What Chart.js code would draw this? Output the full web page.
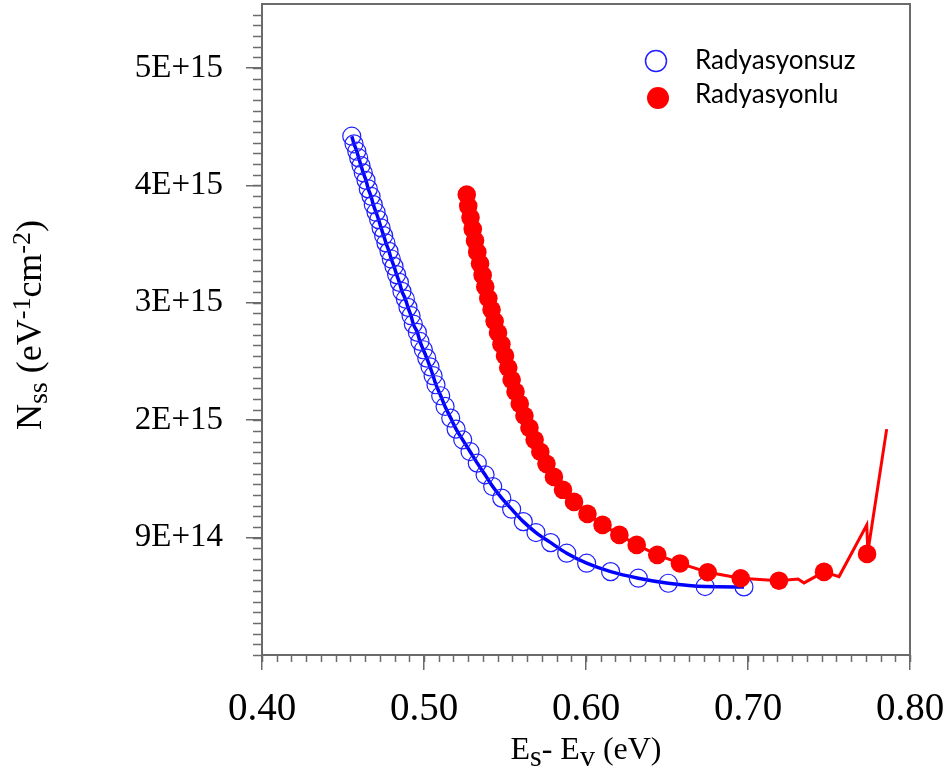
<!DOCTYPE html>
<html>
<head>
<meta charset="utf-8">
<title>Nss</title>
<script src="https://cdn.jsdelivr.net/npm/chart.js@4.4.0/dist/chart.umd.min.js"></script>
<style>
  html, body { margin: 0; padding: 0; background: #fff; }
</style>
</head>
<body>
<canvas id="myChart" width="949" height="775"></canvas>
<script>
"use strict";

// x: Es - Ev (eV), y: Nss in units of 1E15 eV-1cm-2
const blueX = [0.4554, 0.4568, 0.4585, 0.4597, 0.4611, 0.4625, 0.4642, 0.4656, 0.4673, 0.4687,
    0.4704, 0.4720, 0.4735, 0.4751, 0.4765, 0.4784, 0.4798, 0.4815, 0.4831, 0.4848,
    0.4864, 0.4885, 0.4901, 0.4920, 0.4934, 0.4959, 0.4975, 0.4996, 0.5017, 0.5037,
    0.5056, 0.5074, 0.5103, 0.5130, 0.5165, 0.5198, 0.5239, 0.5284, 0.5329, 0.5377,
    0.5424, 0.5480, 0.5541, 0.5613, 0.5691, 0.5782, 0.5881, 0.6004, 0.6152, 0.6323,
    0.6508, 0.6735, 0.6975];
const blueY = [4.419, 4.354, 4.291, 4.234, 4.169, 4.107, 4.043, 3.970, 3.907, 3.836,
    3.771, 3.708, 3.638, 3.572, 3.510, 3.438, 3.373, 3.310, 3.240, 3.174,
    3.097, 3.032, 2.961, 2.890, 2.819, 2.748, 2.671, 2.600, 2.529, 2.455,
    2.379, 2.302, 2.208, 2.117, 2.018, 1.924, 1.833, 1.733, 1.634, 1.535,
    1.435, 1.336, 1.242, 1.136, 1.043, 0.957, 0.867, 0.782, 0.710, 0.654,
    0.611, 0.583, 0.580];

const redX = [0.5264, 0.5273, 0.5287, 0.5301, 0.5315, 0.5329, 0.5346, 0.5362, 0.5378, 0.5397,
    0.5417, 0.5436, 0.5457, 0.5478, 0.5500, 0.5520, 0.5541, 0.5565, 0.5591, 0.5620,
    0.5651, 0.5683, 0.5718, 0.5756, 0.5802, 0.5858, 0.5926, 0.6009, 0.6102, 0.6206,
    0.6313, 0.6440, 0.6580, 0.6751, 0.6955, 0.7191, 0.7469, 0.7735];
const redY = [3.922, 3.824, 3.726, 3.627, 3.529, 3.431, 3.333, 3.235, 3.137, 3.039,
    2.941, 2.843, 2.745, 2.647, 2.549, 2.447, 2.344, 2.242, 2.140, 2.038,
    1.935, 1.833, 1.731, 1.628, 1.517, 1.407, 1.304, 1.202, 1.108, 1.023,
    0.938, 0.853, 0.780, 0.705, 0.654, 0.633, 0.708, 0.861];

// the red line runs through the markers and has a few extra corners at the end
const redLineX = [0.5264, 0.5273, 0.5287, 0.5301, 0.5315, 0.5329, 0.5346, 0.5362, 0.5378, 0.5397,
    0.5417, 0.5436, 0.5457, 0.5478, 0.5500, 0.5520, 0.5541, 0.5565, 0.5591, 0.5620,
    0.5651, 0.5683, 0.5718, 0.5756, 0.5802, 0.5858, 0.5926, 0.6009, 0.6102, 0.6206,
    0.6313, 0.6440, 0.6580, 0.6751, 0.6955, 0.7191, 0.7309, 0.7346, 0.7469, 0.7562,
    0.7733, 0.7740, 0.7856];
const redLineY = [3.922, 3.824, 3.726, 3.627, 3.529, 3.431, 3.333, 3.235, 3.137, 3.039,
    2.941, 2.843, 2.745, 2.647, 2.549, 2.447, 2.344, 2.242, 2.140, 2.038,
    1.935, 1.833, 1.731, 1.628, 1.517, 1.407, 1.304, 1.202, 1.108, 1.023,
    0.938, 0.853, 0.780, 0.705, 0.654, 0.633, 0.648, 0.614, 0.708, 0.668,
    1.108, 0.880, 1.924];

const seriesNames = ["Radyasyonsuz", "Radyasyonlu"];

const xTicks = [0.40, 0.50, 0.60, 0.70, 0.80];
const xTickLabels = ["0.40", "0.50", "0.60", "0.70", "0.80"];
const yTicks = [1, 2, 3, 4, 5];
const yTickLabels = ["9E+14", "2E+15", "3E+15", "4E+15", "5E+15"];

const serif = "'Liberation Serif', 'Times New Roman', serif";
const axisGray = "#6b6b6b";

function toPoints(xs, ys){
    const pts = [];
    for (let i = 0; i < xs.length; i++){
        pts.push({x: xs[i], y: ys[i]});
    }
    return pts;
}

// draws text pieces with their own size and vertical shift, centred on x
function drawRich(ctx, parts, x, y){
    let total = 0;
    for (const p of parts){
        ctx.font = p.size + "px " + serif;
        total += ctx.measureText(p.t).width;
    }
    let cx = x - total / 2;
    ctx.textAlign = "left";
    ctx.textBaseline = "alphabetic";
    for (const p of parts){
        ctx.font = p.size + "px " + serif;
        ctx.fillText(p.t, cx, y + (p.dy || 0));
        cx += ctx.measureText(p.t).width;
    }
}

const framePlugin = {
    id: "frame",
    afterDraw(chart){
        const ctx = chart.ctx;
        const a = chart.chartArea;
        const xs = chart.scales.x;
        const ys = chart.scales.y;
        ctx.save();

        // box
        ctx.strokeStyle = axisGray;
        ctx.lineWidth = 2;
        ctx.strokeRect(a.left, a.top, a.right - a.left, a.bottom - a.top);

        // minor ticks, 10 between majors
        ctx.lineWidth = 1.5;
        ctx.beginPath();
        const xStep = 0.1 / 11;
        for (let k = 0; ; k++){
            const v = xs.min + k * xStep;
            if (v > xs.max + 1e-9) break;
            const px = Math.round(xs.getPixelForValue(v)) + 0.5;
            ctx.moveTo(px, a.bottom);
            ctx.lineTo(px, a.bottom + 7);
        }
        const yStep = 1 / 11;
        for (let k = 0; ; k++){
            const v = ys.min + k * yStep;
            if (v > ys.max + 1e-9) break;
            const py = Math.round(ys.getPixelForValue(v)) + 0.5;
            ctx.moveTo(a.left, py);
            ctx.lineTo(a.left - 9, py);
        }
        ctx.stroke();

        // axis titles
        ctx.fillStyle = "#000";
        drawRich(ctx, [
            {t: "E", size: 32},
            {t: "s", size: 30, dy: 7},
            {t: "- E", size: 32},
            {t: "v", size: 30, dy: 7},
            {t: " (eV)", size: 32}
        ], (a.left + a.right) / 2, a.bottom + 104);

        ctx.save();
        ctx.translate(41, 325);
        ctx.rotate(-Math.PI / 2);
        drawRich(ctx, [
            {t: "N", size: 36},
            {t: "ss", size: 28, dy: 6},
            {t: " (eV", size: 36},
            {t: "-1", size: 26, dy: -11},
            {t: "cm", size: 36},
            {t: "-2", size: 26, dy: -11},
            {t: ")", size: 36}
        ], 0, 0);
        ctx.restore();

        // legend inside the plot
        const blue = chart.data.datasets[2];
        const red = chart.data.datasets[0];
        ctx.font = "26px Lato, 'Open Sans', sans-serif";
        ctx.textAlign = "left";
        ctx.textBaseline = "alphabetic";

        ctx.beginPath();
        ctx.arc(656, 61, 10.5, 0, Math.PI * 2);
        ctx.lineWidth = 1.5;
        ctx.strokeStyle = blue.pointBorderColor;
        ctx.stroke();
        ctx.fillStyle = "#000";
        ctx.fillText(blue.label, 695, 69);

        ctx.beginPath();
        ctx.arc(658, 98, 11, 0, Math.PI * 2);
        ctx.fillStyle = red.pointBackgroundColor;
        ctx.fill();
        ctx.fillStyle = "#000";
        ctx.fillText(red.label, 695, 103);

        ctx.restore();
    }
};

function init(){
    const ctx = document.getElementById("myChart").getContext("2d");
    new Chart(ctx, {
        type: "scatter",
        data: {
            datasets: [
                {
                    label: seriesNames[1],
                    data: toPoints(redX, redY),
                    showLine: false,
                    pointRadius: 9.3,
                    pointBorderWidth: 0,
                    pointBackgroundColor: "#ff0000",
                    pointBorderColor: "#ff0000",
                    order: 0
                },
                {
                    label: seriesNames[1] + " line",
                    data: toPoints(redLineX, redLineY),
                    showLine: true,
                    borderColor: "#ff0000",
                    borderWidth: 3,
                    pointRadius: 0,
                    tension: 0,
                    order: 1
                },
                {
                    label: seriesNames[0],
                    data: toPoints(blueX, blueY),
                    showLine: true,
                    borderColor: "#0000ff",
                    borderWidth: 3.5,
                    cubicInterpolationMode: "monotone",
                    pointRadius: 9,
                    pointBorderWidth: 1.2,
                    pointBorderColor: "#1f1fff",
                    pointBackgroundColor: "rgba(0,0,0,0)",
                    order: 2
                }
            ]
        },
        options: {
            responsive: false,
            animation: false,
            devicePixelRatio: 1,
            layout: {
                autoPadding: false,
                padding: {top: 4, right: 39, left: 0, bottom: 0}
            },
            plugins: {
                legend: {display: false},
                tooltip: {enabled: false}
            },
            scales: {
                x: {
                    type: "linear",
                    min: 0.40,
                    max: 0.80,
                    afterBuildTicks: (scale) => {
                        scale.ticks = xTicks.map(v => ({value: v}));
                    },
                    afterFit: (scale) => {
                        scale.height = 120;
                        scale.paddingLeft = 0;
                        scale.paddingRight = 0;
                    },
                    ticks: {
                        color: "#000",
                        font: {family: serif, size: 39},
                        padding: 16,
                        maxRotation: 0,
                        callback: (value, index) => xTickLabels[index]
                    },
                    grid: {
                        drawOnChartArea: false,
                        drawTicks: true,
                        tickLength: 15,
                        color: axisGray,
                        lineWidth: 1.5
                    },
                    border: {display: true, color: axisGray, width: 2}
                },
                y: {
                    type: "linear",
                    min: 0,
                    max: 5.545,
                    afterBuildTicks: (scale) => {
                        scale.ticks = yTicks.map(v => ({value: v}));
                    },
                    afterFit: (scale) => {
                        scale.width = 262;
                        scale.paddingTop = 0;
                        scale.paddingBottom = 0;
                    },
                    ticks: {
                        color: "#000",
                        font: {family: serif, size: 33},
                        padding: 23,
                        callback: (value, index) => yTickLabels[index]
                    },
                    grid: {
                        drawOnChartArea: false,
                        drawTicks: true,
                        tickLength: 16,
                        color: axisGray,
                        lineWidth: 1.5
                    },
                    border: {display: true, color: axisGray, width: 2}
                }
            }
        },
        plugins: [framePlugin]
    });
}

document.addEventListener("DOMContentLoaded", init);
</script>
</body>
</html>
